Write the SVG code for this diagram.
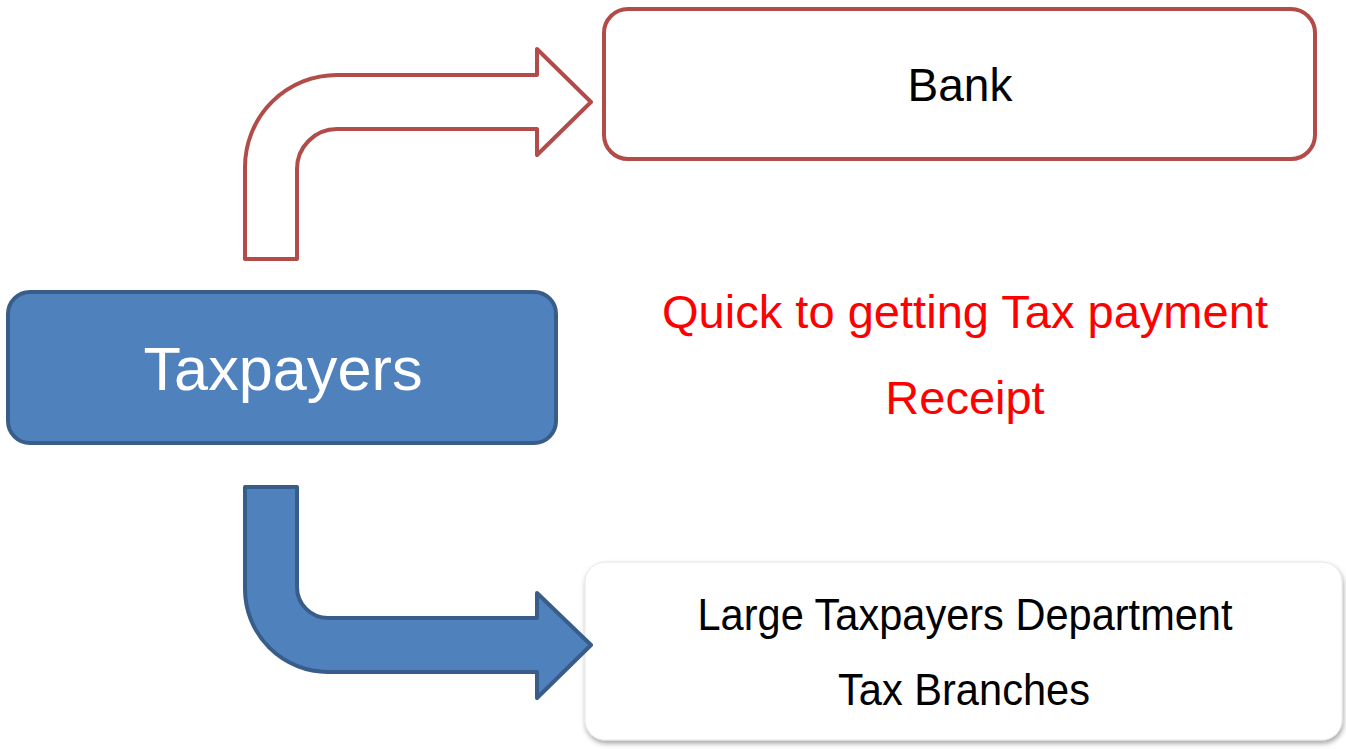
<svg xmlns="http://www.w3.org/2000/svg" width="1346" height="749" viewBox="0 0 1346 749">
<style>
.lbl{font-family:"Liberation Sans",Arial,sans-serif;text-anchor:middle}
.dark{fill:#000}
.red{fill:#FF0000}
.wh{fill:#fff}
</style>
<defs>
<filter id="sh" x="-5%" y="-10%" width="110%" height="125%">
<feDropShadow dx="1" dy="3" stdDeviation="2.5" flood-color="#000" flood-opacity="0.35"/>
</filter>
</defs>
<rect width="1346" height="749" fill="#fff"/>
<g id="taxpayers">
<rect x="8" y="292" width="548" height="151" rx="22" fill="#4F81BD" stroke="#385D8A" stroke-width="4"/>
<text class="lbl wh" x="283" y="390" font-size="61" textLength="279" lengthAdjust="spacingAndGlyphs">Taxpayers</text>
</g>
<g id="bank">
<rect x="604" y="9" width="711" height="150" rx="24" fill="#fff" stroke="#B14C48" stroke-width="4"/>
<text class="lbl dark" x="960" y="101" font-size="46">Bank</text>
</g>
<g id="note">
<text class="lbl red" x="965" y="328" font-size="47" textLength="606" lengthAdjust="spacingAndGlyphs">Quick to getting Tax payment</text>
<text class="lbl red" x="965" y="414" font-size="47">Receipt</text>
</g>
<g id="ltd">
<rect x="585" y="562" width="757" height="178" rx="20" fill="#fff" stroke="#e6e6e6" stroke-width="1" filter="url(#sh)"/>
<text class="lbl dark" x="965" y="630" font-size="45" textLength="535" lengthAdjust="spacingAndGlyphs">Large Taxpayers Department</text>
<text class="lbl dark" x="964" y="705" font-size="45" textLength="252" lengthAdjust="spacingAndGlyphs">Tax Branches</text>
</g>
<g id="connectors">
<path id="arrow-bank" d="M245,259 L245,167 A92,92 0 0 1 337,75 L537,75 L537,49 L591,102 L537,155 L537,129 L337,129 A40,40 0 0 0 297,169 L297,259 Z" fill="#fff" stroke="#B14C48" stroke-width="4" stroke-linejoin="round"/>
<path id="arrow-ltd" d="M245,487 L297,487 L297,587 A31,31 0 0 0 328,618 L537,618 L537,593 L591,645 L537,698 L537,672 L328,672 A83,83 0 0 1 245,589 Z" fill="#4F81BD" stroke="#385D8A" stroke-width="4" stroke-linejoin="round"/>
</g>
</svg>
